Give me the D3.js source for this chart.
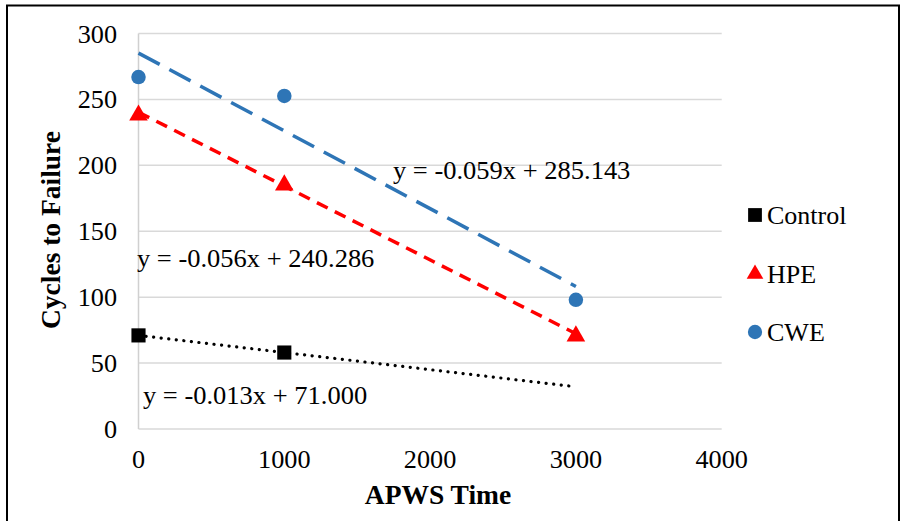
<!DOCTYPE html>
<html><head><meta charset="utf-8">
<script src="https://cdn.jsdelivr.net/npm/d3@7"></script>
<style>body{margin:0;background:#fff}svg{display:block}</style>
</head><body>
<script>
// Data
const seriesNames = ["Control", "HPE", "CWE"];
const controlX = [0, 1000];
const controlY = [71, 58];
const hpeX = [0, 1000, 3000];
const hpeY = [238, 185, 70.5];
const cweX = [0, 1000, 3000];
const cweY = [267, 252.6, 98];
// Trendline coefficients (slope, intercept) and extent
const trendSlopes = [-0.013, -0.056, -0.059];
const trendIntercepts = [71.000, 240.286, 285.143];
const trendLabels = ["y = -0.013x + 71.000", "y = -0.056x + 240.286", "y = -0.059x + 285.143"];
const trendLabelPos = [[143, 404], [137, 267], [393, 179]]; // [x px, baseline px]
const xTicks = [0, 1000, 2000, 3000, 4000];
const yTicks = [0, 50, 100, 150, 200, 250, 300];

const W = 906, H = 521;
const svg = d3.select("body").append("svg").attr("width", W).attr("height", H);
const font = "'Liberation Serif', 'Times New Roman', serif";

svg.append("rect").attr("x", 7).attr("y", 5.5).attr("width", 892).attr("height", 530)
  .attr("fill", "none").attr("stroke", "#000").attr("stroke-width", 2);

const x = d3.scaleLinear().domain([0, 4000]).range([138.5, 721.7]);
const y = d3.scaleLinear().domain([0, 300]).range([429, 33.5]);

// gridlines
svg.append("g").selectAll("line").data(yTicks).join("line")
  .attr("x1", x(0)).attr("x2", x(4000)).attr("y1", d => y(d)).attr("y2", d => y(d))
  .attr("stroke", "#d9d9d9").attr("stroke-width", 1.5);
svg.append("line").attr("x1", x(0)).attr("x2", x(0)).attr("y1", y(0)).attr("y2", y(300))
  .attr("stroke", "#d0d0d0").attr("stroke-width", 1.5);

// tick labels (slightly wide serif, as in the reference)
const wide = 1.05;
svg.append("g").selectAll("text").data(yTicks).join("text")
  .attr("transform", d => `translate(117,${y(d) + 9}) scale(${wide},1)`).attr("text-anchor", "end")
  .attr("font-family", font).attr("font-size", 25).text(d => d);
svg.append("g").selectAll("text").data(xTicks).join("text")
  .attr("transform", d => `translate(${x(d)},468) scale(${wide},1)`).attr("text-anchor", "middle")
  .attr("font-family", font).attr("font-size", 25).text(d => d);

// axis titles
svg.append("text").attr("x", 438).attr("y", 504).attr("text-anchor", "middle")
  .attr("font-family", font).attr("font-size", 27.5).attr("font-weight", "bold").text("APWS Time");
svg.append("text").attr("transform", "translate(60,230) rotate(-90)").attr("text-anchor", "middle")
  .attr("font-family", font).attr("font-size", 27.5).attr("font-weight", "bold").text("Cycles to Failure");

// trendlines
const trendStyles = [
  {color: "#000", dash: "0.1 7.5", width: 3.2, cap: "round"},
  {color: "#ff0000", dash: "12 8", width: 3.5, cap: "butt"},
  {color: "#2e75b6", dash: "24 11", width: 3.5, cap: "butt"}
];
const trendEnd = 3000;
trendSlopes.forEach((m, i) => {
  const b = trendIntercepts[i];
  const st = trendStyles[i];
  svg.append("line")
    .attr("x1", x(0)).attr("y1", y(b))
    .attr("x2", x(trendEnd)).attr("y2", y(b + m * trendEnd))
    .attr("stroke", st.color).attr("stroke-width", st.width)
    .attr("stroke-dasharray", st.dash).attr("stroke-linecap", st.cap);
});

// trend labels
trendLabels.forEach((t, i) => {
  svg.append("text")
    .attr("transform", `translate(${trendLabelPos[i][0]},${trendLabelPos[i][1]}) scale(1.06,1)`)
    .attr("font-family", font).attr("font-size", 25).text(t);
});

// markers
const sq = d3.symbol().type(d3.symbolSquare).size(200);
const tri = d3.symbol().type(d3.symbolTriangle).size(150);
const circ = d3.symbol().type(d3.symbolCircle).size(165);
const controlPts = controlX.map((v, i) => [v, controlY[i]]);
const hpePts = hpeX.map((v, i) => [v, hpeY[i]]);
const cwePts = cweX.map((v, i) => [v, cweY[i]]);
svg.append("g").selectAll("path").data(controlPts).join("path")
  .attr("d", sq).attr("transform", d => `translate(${x(d[0])},${y(d[1])})`).attr("fill", "#000");
svg.append("g").selectAll("path").data(hpePts).join("path")
  .attr("d", tri).attr("transform", d => `translate(${x(d[0])},${y(d[1])})`).attr("fill", "#ff0000");
svg.append("g").selectAll("path").data(cwePts).join("path")
  .attr("d", circ).attr("transform", d => `translate(${x(d[0])},${y(d[1])})`).attr("fill", "#2e75b6");

// legend
const legSyms = [d3.symbol().type(d3.symbolSquare).size(190), d3.symbol().type(d3.symbolTriangle).size(120), d3.symbol().type(d3.symbolCircle).size(160)];
const legColors = ["#000", "#ff0000", "#2e75b6"];
const legY = [215, 274, 332];
seriesNames.forEach((n, i) => {
  svg.append("path").attr("d", legSyms[i]()).attr("transform", `translate(755,${legY[i]})`).attr("fill", legColors[i]);
  svg.append("text").attr("x", 767).attr("y", legY[i] + 8.5)
    .attr("font-family", font).attr("font-size", 26).text(n);
});
</script>
</body></html>
